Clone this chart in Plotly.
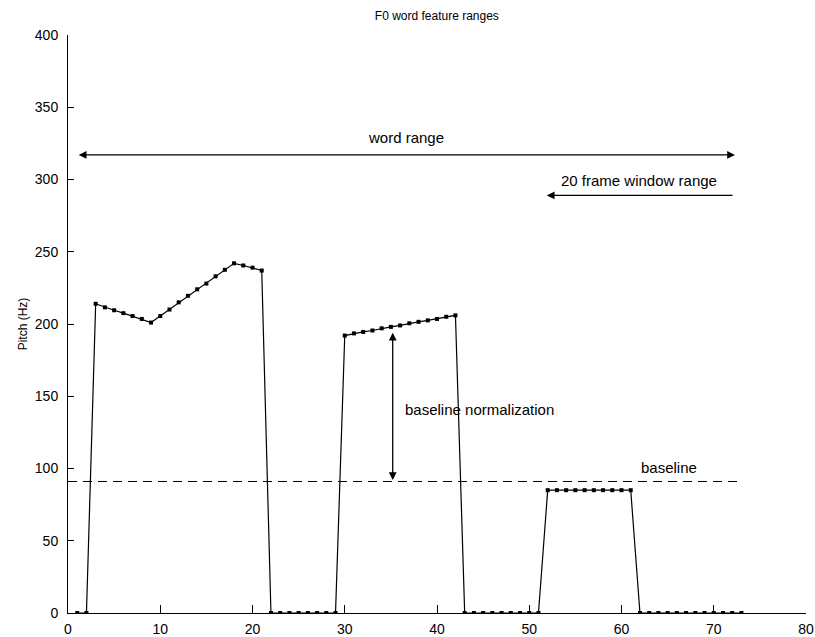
import plotly.graph_objects as go

# Frame indices and F0 contour (Hz) for the word
frames = list(range(1, 74))
pitch = (
    [0, 0,
     214, 211.5, 209.5, 207.5, 205.5, 203.5, 201, 205.5, 210, 215, 219.5, 224, 228, 233, 237.5, 242, 240.5, 239, 237]
    + [0] * 8
    + [192, 193.5, 194.5, 195.5, 197, 198, 199, 200.5, 201.5, 202.5, 203.5, 205, 206]
    + [0] * 9
    + [85] * 10
    + [0] * 12
)

baseline_value = 91
baseline_x = [0, 73]

word_range_x = [1, 72.3]
word_range_y = 317
window_range_x = [72.2, 51.9]
window_range_y = 289
norm_arrow_x = 35.2
norm_arrow_y = [baseline_value, 194]

x_ticks = [0, 10, 20, 30, 40, 50, 60, 70, 80]
y_ticks = [0, 50, 100, 150, 200, 250, 300, 350, 400]

FONT = "Liberation Sans, Arial, sans-serif"

fig = go.Figure()

fig.add_trace(go.Scatter(
    x=frames, y=pitch, mode="lines+markers",
    line=dict(color="black", width=1.2),
    marker=dict(symbol="square", size=4, color="black"),
    showlegend=False, hoverinfo="x+y",
))

fig.add_trace(go.Scatter(
    x=baseline_x, y=[baseline_value, baseline_value], mode="lines",
    line=dict(color="black", width=1.1, dash="9px,6px"),
    showlegend=False, hoverinfo="skip",
))

ann = []
# word range double arrow
ann.append(dict(
    x=word_range_x[1], y=word_range_y, ax=word_range_x[0], ay=word_range_y,
    xref="x", yref="y", axref="x", ayref="y", text="",
    showarrow=True, arrowhead=2, arrowside="end+start", arrowsize=1.2,
    arrowwidth=1.3, arrowcolor="black",
))
ann.append(dict(
    x=sum(word_range_x) / 2, y=word_range_y + 12, xref="x", yref="y",
    text="word range", showarrow=False, font=dict(size=15, family=FONT, color="black"),
))
# 20 frame window arrow
ann.append(dict(
    x=window_range_x[1], y=window_range_y, ax=window_range_x[0], ay=window_range_y,
    xref="x", yref="y", axref="x", ayref="y", text="",
    showarrow=True, arrowhead=2, arrowsize=1.2,
    arrowwidth=1.3, arrowcolor="black",
))
ann.append(dict(
    x=53.2, y=window_range_y + 10, xref="x", yref="y", xanchor="left",
    text="20 frame window range", showarrow=False,
    font=dict(size=15, family=FONT, color="black"),
))
# baseline normalization double arrow
ann.append(dict(
    x=norm_arrow_x, y=norm_arrow_y[1], ax=norm_arrow_x, ay=norm_arrow_y[0],
    xref="x", yref="y", axref="x", ayref="y", text="",
    showarrow=True, arrowhead=2, arrowside="end+start", arrowsize=1.2,
    arrowwidth=1.3, arrowcolor="black",
))
ann.append(dict(
    x=36.3, y=140.5, xref="x", yref="y", xanchor="left",
    text="baseline normalization", showarrow=False,
    font=dict(size=15, family=FONT, color="black"),
))
ann.append(dict(
    x=65.2, y=100.5, xref="x", yref="y", xanchor="center",
    text="baseline", showarrow=False,
    font=dict(size=15, family=FONT, color="black"),
))

fig.update_layout(
    width=815, height=637,
    margin=dict(l=68, r=9, t=35, b=24, pad=0, autoexpand=False),
    paper_bgcolor="white", plot_bgcolor="white",
    title=dict(text="F0 word feature ranges", x=0.536, xanchor="center",
               y=0.975, yanchor="middle",
               font=dict(size=12, family=FONT, color="black")),
    annotations=ann,
    font=dict(family=FONT, color="black"),
)

fig.update_xaxes(
    range=[0, 80], tickvals=x_ticks, ticktext=[str(v) for v in x_ticks],
    showgrid=False, zeroline=False, showline=True, linecolor="black", linewidth=1,
    ticks="inside", ticklen=8, tickcolor="black", tickwidth=1, automargin=False,
    ticklabelstandoff=3,
    tickfont=dict(size=14, family=FONT, color="black"),
)
fig.update_yaxes(
    range=[0, 400], tickvals=y_ticks, ticktext=[str(v) for v in y_ticks],
    showgrid=False, zeroline=False, showline=True, linecolor="black", linewidth=1,
    ticks="inside", ticklen=6, tickcolor="black", tickwidth=1, automargin=False,
    ticklabelstandoff=6,
    tickfont=dict(size=14, family=FONT, color="black"),
    title=dict(text="Pitch (Hz)", font=dict(size=12, family=FONT, color="black"), standoff=4),
)

fig.write_html("out.html")
